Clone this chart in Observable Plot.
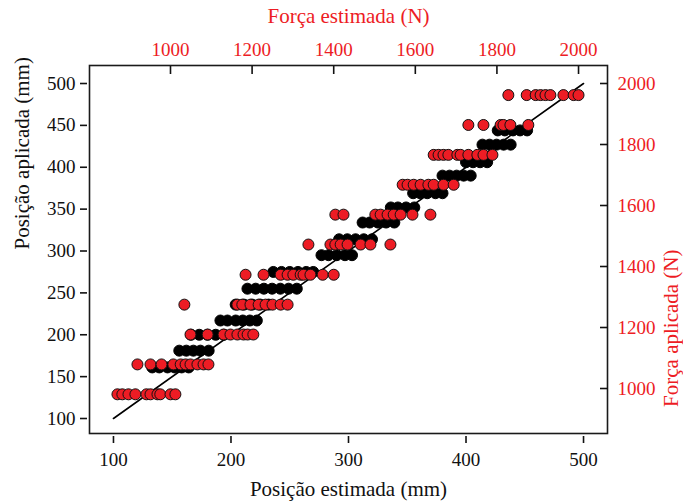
<!DOCTYPE html>
<html>
<head>
<meta charset="utf-8">
<script src="https://cdn.jsdelivr.net/npm/d3@7"></script>
<script src="https://cdn.jsdelivr.net/npm/@observablehq/plot@0.6"></script>
<style>
html, body { margin: 0; padding: 0; background: #fff; }
#chart { position: relative; width: 683px; height: 502px; }
#chart svg { position: absolute; left: 0; top: 0; }
#chart svg, #chart svg text, #chart svg g {
  font-family: "Liberation Serif", "Times New Roman", Times, "DejaVu Serif", serif !important;
}
</style>
</head>
<body>
<div id="chart"></div>
<script>
// Posição aplicada (mm) levels and the Posição estimada (mm) readings at each level
const posAplicadaLevels = [161, 181, 200, 217, 236, 255, 275, 295, 314, 334, 352, 369, 390, 406, 427, 444];
const posEstimadaByLevel = [
  [133, 139, 146, 152, 158, 164],
  [156, 162, 168, 174, 181],
  [166, 173, 180, 187, 194],
  [191, 197, 204, 210, 216, 222],
  [204, 211, 218, 225, 232],
  [214, 221, 228, 235, 242, 249, 256],
  [236, 243, 250, 257, 264, 270],
  [277, 283, 290, 297, 303],
  [292, 299, 306, 313, 320],
  [312, 318, 325, 332, 339],
  [336, 342, 349, 356],
  [355, 361, 367, 374, 380],
  [380, 386, 392, 398, 404],
  [400, 406, 412, 418],
  [414, 420, 426, 432, 438],
  [427, 433, 440, 446, 452]
];

// Força aplicada (N) levels and the Força estimada (N) readings at each level
const forcaAplicadaLevels = [981, 1079, 1177, 1275, 1373, 1472, 1570, 1668, 1766, 1864, 1962];
const forcaEstimadaByLevel = [
  [870, 882, 897, 914, 941, 951, 968, 975, 1000, 1012],
  [919, 951, 978, 1007, 1025, 1037, 1049, 1066, 1081, 1093],
  [1049, 1091, 1130, 1147, 1164, 1179, 1189, 1203],
  [1034, 1164, 1176, 1196, 1216, 1233, 1250, 1270, 1287],
  [1184, 1228, 1270, 1287, 1301, 1319, 1326, 1343, 1373, 1400],
  [1338, 1392, 1404, 1417, 1434, 1466, 1490, 1539],
  [1404, 1424, 1502, 1515, 1532, 1547, 1564, 1593, 1637],
  [1569, 1581, 1596, 1613, 1632, 1645, 1669, 1694],
  [1645, 1657, 1669, 1681, 1703, 1711, 1730, 1752, 1767, 1789],
  [1730, 1767, 1809, 1816, 1833, 1877],
  [1828, 1873, 1895, 1907, 1919, 1931, 1963, 1988, 2000]
];

// ideal line (estimada = aplicada)
const idealLine = [100, 500];

// tick labels
const posXTicks = [100, 200, 300, 400, 500];
const posYTicks = [100, 150, 200, 250, 300, 350, 400, 450, 500];
const forcaXTicks = [1000, 1200, 1400, 1600, 1800, 2000];
const forcaYTicks = [1000, 1200, 1400, 1600, 1800, 2000];

const posData = posAplicadaLevels.flatMap((apl, i) => posEstimadaByLevel[i].map(est => ({est, apl})));
const forcaData = forcaAplicadaLevels.flatMap((apl, i) => forcaEstimadaByLevel[i].map(est => ({est, apl})));

const RED = "#ED1C24";
const FONT = '"Liberation Serif", "Times New Roman", Times, serif';
const fmt = d => String(d);
const dims = {width: 683, height: 502, marginTop: 65, marginRight: 76, marginBottom: 69, marginLeft: 89};

const base = Plot.plot({
  ...dims,
  style: {fontFamily: FONT, fontSize: "19px", background: "transparent", color: "#111"},
  x: {domain: [79.6, 520.4]},
  y: {domain: [82.1, 521.5]},
  marks: [
    Plot.dot(posData, {x: "est", y: "apl", r: 5.5, fill: "#000", stroke: "#000", strokeWidth: 1}),
    Plot.line(idealLine, {x: d => d, y: d => d, stroke: "#000", strokeWidth: 1.6}),
    Plot.axisX(posXTicks, {anchor: "bottom", tickSize: 7, tickPadding: 9, dy: 3, label: null, tickFormat: fmt, fontSize: 19, strokeWidth: 1.6}),
    Plot.axisY(posYTicks, {anchor: "left", tickSize: 7, tickPadding: 5, dx: -2, label: null, tickFormat: fmt, fontSize: 19, strokeWidth: 1.6}),
    Plot.text(["Posição estimada (mm)"], {frameAnchor: "bottom", dy: 62, lineAnchor: "bottom", fontSize: 21, fill: "#111"}),
    Plot.text(["Posição aplicada (mm)"], {frameAnchor: "left", dx: -61, rotate: -90, lineAnchor: "bottom", fontSize: 21, fill: "#111"}),
    Plot.frame({stroke: "#1a1a1a", strokeWidth: 1.6})
  ]
});

const over = Plot.plot({
  ...dims,
  style: {fontFamily: FONT, fontSize: "19px", background: "transparent", color: "#111"},
  x: {domain: [801.5, 2071]},
  y: {domain: [852.5, 2059]},
  marks: [
    Plot.dot(forcaData, {x: "est", y: "apl", r: 5.5, fill: RED, stroke: "#111", strokeWidth: 1}),
    Plot.axisX(forcaXTicks, {anchor: "top", tickSize: 8, dy: 8, fill: "none", label: null, stroke: "#111", strokeWidth: 1.6}),
    Plot.axisX(forcaXTicks, {anchor: "top", tickSize: 0, tickPadding: 10, label: null, tickFormat: fmt, fill: RED, fontSize: 19}),
    Plot.axisY(forcaYTicks, {anchor: "right", tickSize: 8, dx: -8, fill: "none", label: null, stroke: "#111", strokeWidth: 1.6}),
    Plot.axisY(forcaYTicks, {anchor: "right", tickSize: 0, tickPadding: 10, label: null, tickFormat: fmt, fill: RED, fontSize: 19}),
    Plot.text(["Força estimada (N)"], {frameAnchor: "top", dy: -43, lineAnchor: "bottom", fontSize: 21, fill: RED}),
    Plot.text(["Força aplicada (N)"], {frameAnchor: "right", dx: 70, rotate: -90, lineAnchor: "bottom", fontSize: 21, fill: RED})
  ]
});

const chart = document.getElementById("chart");
chart.appendChild(base);
chart.appendChild(over);
</script>
</body>
</html>
